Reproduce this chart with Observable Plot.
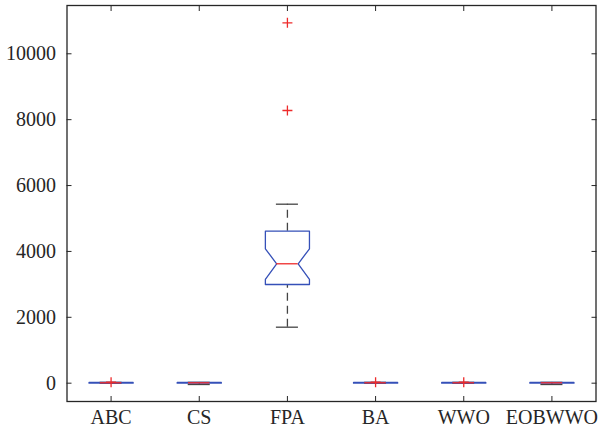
<!DOCTYPE html>
<html>
<head>
<meta charset="utf-8">
<script src="https://cdn.jsdelivr.net/npm/d3@7"></script>
<script src="https://cdn.jsdelivr.net/npm/@observablehq/plot@0.6"></script>
<style>
  html, body { margin: 0; padding: 0; background: #fff; }
  #chart svg { display: block; }
</style>
</head>
<body>
<div id="chart"></div>
<script>
// ---- data ----
const categories = ["ABC", "CS", "FPA", "BA", "WWO", "EOBWWO"];
const whiskerLo  = [0,   -40, 1700, 0,   0,   -40];
const q1         = [0,   0,   2996, 0,   0,   0];
const notchLo    = [8,   8,   3148, 8,   8,   8];
const median     = [12,  12,  3625, 12,  12,  12];
const notchHi    = [16,  16,  4080, 16,  16,  16];
const q3         = [25,  25,  4614, 25,  25,  25];
const whiskerHi  = [25,  25,  5434, 25,  25,  25];
const outlierCat   = ["ABC", "FPA", "FPA", "BA", "WWO"];
const outlierValue = [30,    8279,  10941, 30,   30];
const yTicks = [0, 2000, 4000, 6000, 8000, 10000];

// ---- derived tables ----
const boxW = 0.25, notchW = 0.122, capW = 0.125;
const stats = categories.map((c, i) => ({
  c, x: i + 1, wlo: whiskerLo[i], q1: q1[i], nlo: notchLo[i], med: median[i],
  nhi: notchHi[i], q3: q3[i], whi: whiskerHi[i]
}));
const outline = stats.flatMap(s => {
  const pts = [
    [s.x - boxW, s.q1], [s.x - boxW, s.nlo], [s.x - notchW, s.med], [s.x - boxW, s.nhi],
    [s.x - boxW, s.q3], [s.x + boxW, s.q3], [s.x + boxW, s.nhi], [s.x + notchW, s.med],
    [s.x + boxW, s.nlo], [s.x + boxW, s.q1], [s.x - boxW, s.q1]
  ];
  return pts.map(([x, y]) => ({x, y, c: s.c}));
});
const outliers = outlierCat.map((c, i) => ({x: categories.indexOf(c) + 1, y: outlierValue[i]}));

const plusSymbol = {
  draw(ctx, size) {
    const r = Math.sqrt(size / Math.PI);
    ctx.moveTo(-r, 0); ctx.lineTo(r, 0);
    ctx.moveTo(0, -r); ctx.lineTo(0, r);
  }
};

const ink = "#262626";
const blue = "#3550b8";
const red = "#ee2b2b";
const font = "Liberation Serif, 'Times New Roman', serif";

const chart = Plot.plot({
  width: 598,
  height: 432,
  marginLeft: 66.5,
  marginRight: 2.5,
  marginTop: 5,
  marginBottom: 31,
  style: {fontFamily: font, fontSize: "20px", color: ink, background: "#fff"},
  x: {type: "linear", domain: [0.5, 6.5]},
  y: {domain: [-556, 11466]},
  marks: [
    // axes: labels
    Plot.axisY({ticks: yTicks, tickSize: 0, tickPadding: 11, tickFormat: d => String(d), label: null, fontSize: 20, stroke: ink}),
    Plot.axisX({ticks: [1, 2, 3, 4, 5, 6], tickSize: 0, tickPadding: 8.5, tickFormat: d => categories[d - 1], label: null, fontSize: 20}),
    // inward ticks on all four sides
    Plot.axisY({anchor: "left", ticks: yTicks, tickSize: -5, tickFormat: () => "", label: null, stroke: ink}),
    Plot.axisY({anchor: "right", ticks: yTicks, tickSize: -5, tickFormat: () => "", label: null, stroke: ink}),
    Plot.axisX({anchor: "bottom", ticks: [1, 2, 3, 4, 5, 6], tickSize: -5, tickFormat: () => "", label: null, stroke: ink}),
    Plot.axisX({anchor: "top", ticks: [1, 2, 3, 4, 5, 6], tickSize: -5, tickFormat: () => "", label: null, stroke: ink}),
    Plot.frame({stroke: ink, strokeWidth: 1.3}),
    // whiskers
    Plot.ruleX(stats, {x: "x", y1: "q3", y2: "whi", stroke: "#444", strokeWidth: 1.3, strokeDasharray: "8,5"}),
    Plot.ruleX(stats, {x: "x", y1: "wlo", y2: "q1", stroke: "#444", strokeWidth: 1.3, strokeDasharray: "8,5"}),
    Plot.ruleY(stats, {y: "whi", x1: d => d.x - capW, x2: d => d.x + capW, stroke: "#444", strokeWidth: 1.3}),
    Plot.ruleY(stats, {y: "wlo", x1: d => d.x - capW, x2: d => d.x + capW, stroke: "#444", strokeWidth: 1.3}),
    // notched boxes
    Plot.line(outline, {x: "x", y: "y", z: "c", stroke: blue, strokeWidth: 1.3, curve: "linear"}),
    // medians
    Plot.ruleY(stats, {y: "med", x1: d => d.x - notchW, x2: d => d.x + notchW, stroke: red, strokeWidth: 1.3}),
    // outliers
    Plot.dot(outliers, {x: "x", y: "y", symbol: plusSymbol, r: 5, stroke: red, strokeWidth: 1.3, fill: "none"})
  ]
});
document.getElementById("chart").appendChild(chart);
</script>
</body>
</html>
